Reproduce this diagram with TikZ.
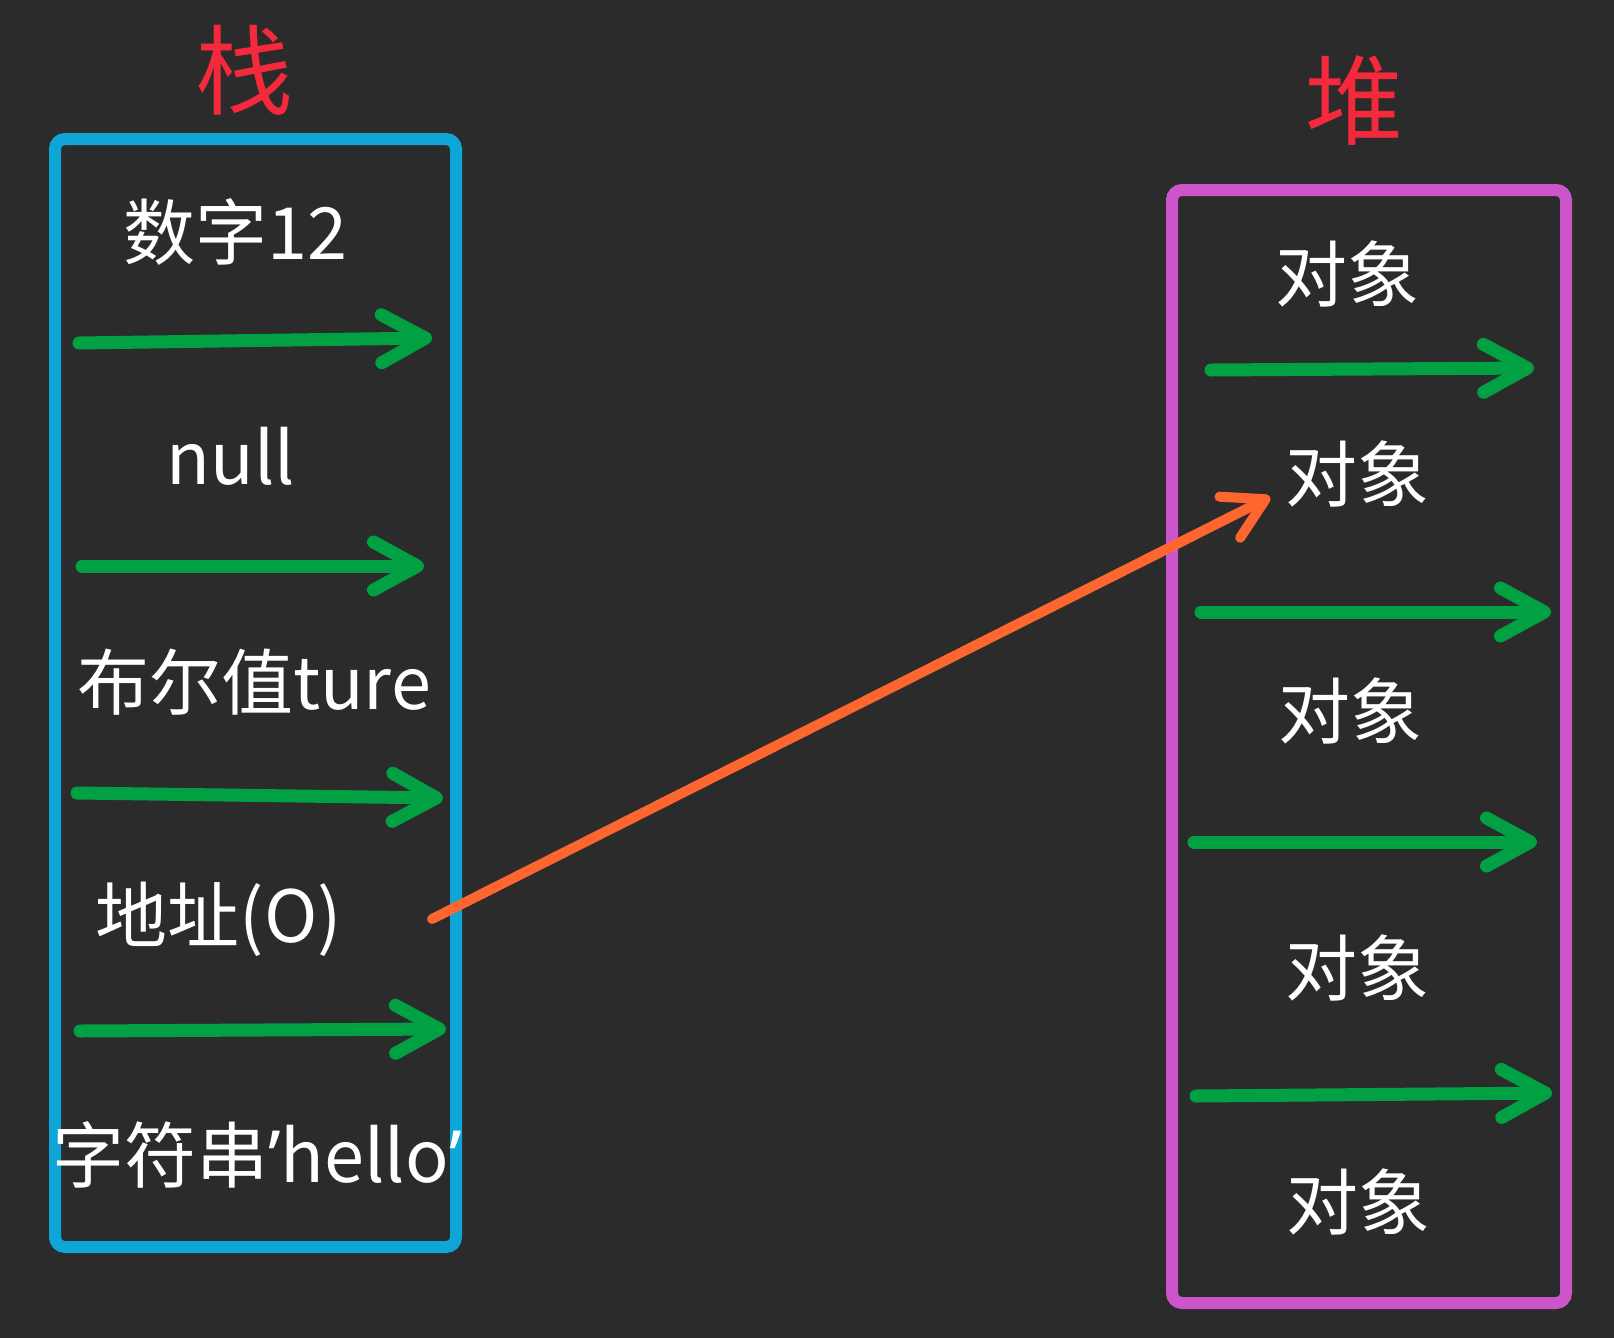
\documentclass[tikz,border=0pt]{standalone}
\usepackage{fontspec}
\setmainfont{Noto Sans CJK SC}
\newfontfamily\latinquote{Noto Sans}
\usetikzlibrary{arrows.meta}
\definecolor{bgdark}{HTML}{2B2B2B}
\definecolor{stackblue}{HTML}{0DA6D6}
\definecolor{heappurple}{HTML}{CC55CC}
\definecolor{ptrgreen}{HTML}{00A043}
\definecolor{reforange}{HTML}{FD662E}
\definecolor{titlered}{HTML}{F4293B}
\tikzset{
  every picture/.style={
    x=1pt, y=-1pt,
    line cap=round
  },
  cell/.style={
    text=white, inner sep=0pt,
    font=\fontsize{72}{80}\selectfont
  },
  title/.style={
    text=titlered, inner sep=0pt,
    font=\fontsize{98}{100}\selectfont
  },
  area/.style={line width=12pt, rounded corners=10pt},
  ptr/.style={
    draw=ptrgreen, line width=13pt,
    -{Straight Barb[length=44pt, width=48pt, round]}
  },
  ref/.style={
    draw=reforange, line width=10pt,
    -{Straight Barb[length=40pt, width=46pt, round]}
  }
}
\begin{document}
\begin{tikzpicture}
  \fill [bgdark] (0,0) rectangle (1614,1338);
  \useasboundingbox (0,0) rectangle (1614,1338);
  % stack
  \node [title] (stack) at (244,70) {栈};
  \draw [area, stackblue] (55,139) rectangle (456,1247);
  \node [cell] (num) at (235,232) {数字12};
  \node [cell] (null) at (231,456) {null};
  \node [cell] (bool) at (254,682) {布尔值ture};
  \node [cell] (addr) at (219,919) {地址(O)};
  \node [cell] (str) at (257,1155) {字符串{\latinquote ’}hello{\latinquote ’}};
  \coordinate (s1a) at (79,343);  \coordinate (s1b) at (432,338);
  \coordinate (s2a) at (82,566);  \coordinate (s2b) at (424,566);
  \coordinate (s3a) at (77,793);  \coordinate (s3b) at (443,798);
  \coordinate (s4a) at (80,1031); \coordinate (s4b) at (446,1029);
  \draw [ptr] (s1a) -- (s1b);
  \draw [ptr] (s2a) -- (s2b);
  \draw [ptr] (s3a) -- (s3b);
  \draw [ptr] (s4a) -- (s4b);
  % heap
  \node [title] (heap) at (1354,101) {堆};
  \draw [area, heappurple] (1172,190) rectangle (1566,1303);
  \node [cell] (obj1) at (1347,274) {对象};
  \node [cell] (obj2) at (1357,474) {对象};
  \node [cell] (obj3) at (1350,711) {对象};
  \node [cell] (obj4) at (1357,968) {对象};
  \node [cell] (obj5) at (1358,1202) {对象};
  \coordinate (h1a) at (1211,370);  \coordinate (h1b) at (1534,368);
  \coordinate (h2a) at (1201,612);  \coordinate (h2b) at (1551,612);
  \coordinate (h3a) at (1194,842);  \coordinate (h3b) at (1537,842);
  \coordinate (h4a) at (1196,1096); \coordinate (h4b) at (1552,1093);
  \draw [ptr] (h1a) -- (h1b);
  \draw [ptr] (h2a) -- (h2b);
  \draw [ptr] (h3a) -- (h3b);
  \draw [ptr] (h4a) -- (h4b);
  % reference
  \coordinate (refa) at (432,919);
  \coordinate (refb) at (1270,497);
  \draw [ref] (refa) -- (refb);
\end{tikzpicture}
\end{document}
